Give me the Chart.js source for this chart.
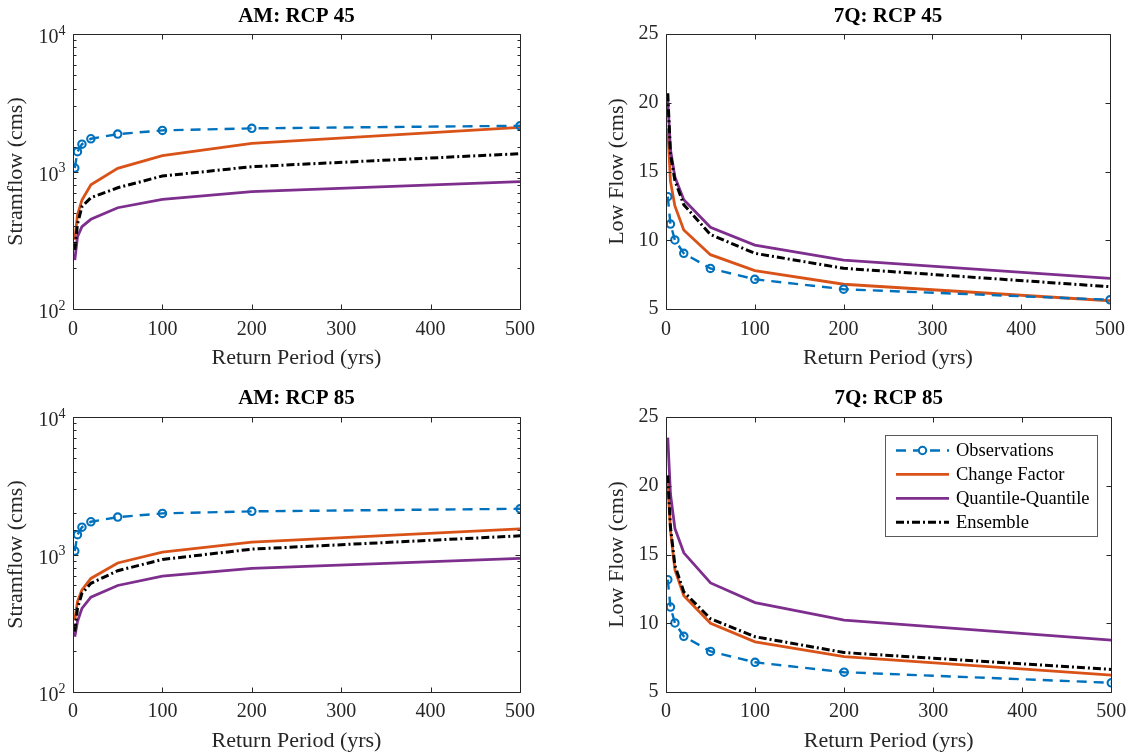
<!DOCTYPE html>
<html>
<head>
<meta charset="utf-8">
<script src="https://cdn.jsdelivr.net/npm/chart.js@4.4.1/dist/chart.umd.min.js"></script>
<style>
html,body{margin:0;padding:0;background:#ffffff;}
#wrap{position:relative;width:1134px;height:756px;overflow:hidden;}
.panel{position:absolute;width:567px;height:378px;}
</style>
</head>
<body>
<div id="wrap">
  <div class="panel" style="left:0px;top:0px"><canvas id="c1"></canvas></div>
  <div class="panel" style="left:567px;top:0px"><canvas id="c2"></canvas></div>
  <div class="panel" style="left:0px;top:378px"><canvas id="c3"></canvas></div>
  <div class="panel" style="left:567px;top:378px"><canvas id="c4"></canvas></div>
</div>
<script>
// ---------------- data ----------------
const returnPeriods = [2, 5, 10, 20, 50, 100, 200, 500];

const obsAM   = [1060, 1393, 1580, 1730, 1870, 1990, 2060, 2150];
const cfAM45  = [318, 483, 621, 800, 1055, 1303, 1603, 2094];
const qqAM45  = [227, 335, 397, 449, 545, 628, 713, 843];
const ensAM45 = [269, 415, 555, 645, 762, 927, 1084, 1348];

const cfAM85  = [334, 454, 552, 670, 868, 1040, 1230, 1536];
const qqAM85  = [252, 325, 406, 489, 595, 696, 792, 936];
const ensAM85 = [275, 406, 522, 617, 762, 920, 1094, 1367];

const obs7Q   = [13.17, 11.18, 10.02, 9.05, 7.95, 7.16, 6.44, 5.67];
const cf7Q45  = [18.14, 14.3, 12.5, 10.75, 8.95, 7.79, 6.8, 5.6];
const qq7Q45  = [20.2, 16.6, 14.6, 12.95, 10.95, 9.65, 8.56, 7.23];
const ens7Q45 = [20.69, 16.3, 14.35, 12.58, 10.42, 9.05, 7.96, 6.62];

const cf7Q85  = [20.18, 16.8, 13.9, 12.0, 10.0, 8.65, 7.57, 6.23];
const qq7Q85  = [23.5, 19.4, 16.9, 15.12, 12.93, 11.5, 10.23, 8.77];
const ens7Q85 = [20.76, 17.0, 14.2, 12.28, 10.33, 9.02, 7.87, 6.64];

const seriesNames = ['Observations', 'Change Factor', 'Quantile-Quantile', 'Ensemble'];
const panelTitles = ['AM: RCP 45', '7Q: RCP 45', 'AM: RCP 85', '7Q: RCP 85'];
const yTitles = ['Stramflow (cms)', 'Low Flow (cms)'];
const xTitle = 'Return Period (yrs)';

// ---------------- style ----------------
const FONT = 'Liberation Serif';
const AX = '#262626';
const COLORS = ['#0072BD', '#D95319', '#7E2F8E', '#000000'];

function pts(arr) { return returnPeriods.map((x, i) => ({ x: x, y: arr[i] })); }

function makeDatasets(obs, cf, qq, ens) {
  return [
    { label: seriesNames[0], data: pts(obs), borderColor: COLORS[0], borderWidth: 2.4, borderDash: [10, 7],
      pointRadius: 3.7, pointBorderWidth: 2.1, pointBorderColor: COLORS[0], pointBackgroundColor: 'rgba(255,255,255,0)', order: 0 },
    { label: seriesNames[1], data: pts(cf), borderColor: COLORS[1], borderWidth: 2.8, pointRadius: 0, order: 3 },
    { label: seriesNames[2], data: pts(qq), borderColor: COLORS[2], borderWidth: 2.8, pointRadius: 0, order: 2 },
    { label: seriesNames[3], data: pts(ens), borderColor: COLORS[3], borderWidth: 3.0, borderDash: [8, 3, 2, 3], pointRadius: 0, order: 1 }
  ];
}

function isDecade(v) {
  const e = Math.log10(v);
  return Math.abs(e - Math.round(e)) < 1e-9;
}

function makeChart(id, g) {
  const W = 567, H = 378;
  const framePlugin = {
    id: 'frame' + id,
    afterDatasetsDraw(chart) {
      const { ctx, chartArea: a, scales: { x, y } } = chart;
      ctx.save();
      ctx.setLineDash([]);
      ctx.strokeStyle = AX;
      ctx.lineWidth = 1;
      const L = Math.round(a.left) + 0.5, R = Math.round(a.right) + 0.5;
      const T = Math.round(a.top) + 0.5, B = Math.round(a.bottom) + 0.5;
      ctx.beginPath();
      ctx.rect(L, T, R - L, B - T);
      x.ticks.forEach(t => {
        const px = Math.round(x.getPixelForValue(t.value)) + 0.5;
        ctx.moveTo(px, B); ctx.lineTo(px, B - 5);
        ctx.moveTo(px, T); ctx.lineTo(px, T + 5);
      });
      y.ticks.forEach(t => {
        const py = Math.round(y.getPixelForValue(t.value)) + 0.5;
        const len = (g.log && !isDecade(t.value)) ? 3 : 5;
        ctx.moveTo(L, py); ctx.lineTo(L + len, py);
        ctx.moveTo(R, py); ctx.lineTo(R - len, py);
      });
      ctx.stroke();
      ctx.restore();
    },
    afterDraw(chart) {
      const { ctx, chartArea: a, scales: { y } } = chart;
      ctx.save();
      // panel title
      ctx.fillStyle = '#000000';
      ctx.font = 'bold 21px "' + FONT + '"';
      ctx.textAlign = 'center';
      ctx.textBaseline = 'middle';
      ctx.fillText(g.title, (a.left + a.right) / 2, g.titleY);
      // exponents of the log tick labels
      if (g.log) {
        ctx.fillStyle = AX;
        ctx.font = '14px "' + FONT + '"';
        ctx.textAlign = 'left';
        y.ticks.forEach(t => {
          if (isDecade(t.value)) {
            const py = y.getPixelForValue(t.value);
            ctx.fillText(String(Math.round(Math.log10(t.value))), a.left - 14.5, py - 3);
          }
        });
      }
      // legend
      if (g.legend) {
        const bw = 212, bh = 101;
        const bx = Math.round(a.right - 14 - bw), by = Math.round(a.top + 18);
        ctx.fillStyle = '#ffffff';
        ctx.fillRect(bx, by, bw, bh);
        ctx.strokeStyle = '#5a5a5a';
        ctx.lineWidth = 1;
        ctx.strokeRect(bx + 0.5, by + 0.5, bw, bh);
        chart.data.datasets.forEach((ds, i) => {
          const cy = by + 15.5 + i * 23.9;
          ctx.setLineDash(ds.borderDash || []);
          ctx.strokeStyle = ds.borderColor;
          ctx.lineWidth = ds.borderWidth;
          ctx.beginPath();
          ctx.moveTo(bx + 11, cy); ctx.lineTo(bx + 64, cy);
          ctx.stroke();
          ctx.setLineDash([]);
          if (ds.pointRadius > 0) {
            ctx.beginPath();
            ctx.arc(bx + 37.5, cy, ds.pointRadius, 0, Math.PI * 2);
            ctx.fillStyle = '#ffffff';
            ctx.fill();
            ctx.lineWidth = ds.pointBorderWidth;
            ctx.stroke();
          }
          ctx.fillStyle = '#000000';
          ctx.font = '18.5px "' + FONT + '"';
          ctx.textAlign = 'left';
          ctx.textBaseline = 'middle';
          ctx.fillText(ds.label, bx + 71, cy + 1);
        });
      }
      ctx.restore();
    }
  };

  const yScale = g.log ? {
    type: 'logarithmic', min: 100, max: 10000,
    ticks: {
      autoSkip: false,
      callback: (v) => isDecade(v) ? '10' : '',
      padding: 14.5, labelOffset: 4,
      font: { family: FONT, size: 20 }, color: AX
    }
  } : {
    type: 'linear', min: 5, max: 25,
    ticks: { stepSize: 5, autoSkip: false, padding: 7.5, font: { family: FONT, size: 20 }, color: AX }
  };
  yScale.grid = { display: false, drawTicks: false, tickLength: 0 };
  yScale.border = { display: false };
  yScale.title = { display: true, text: g.yTitle, font: { family: FONT, size: 22 }, color: AX, padding: { top: g.yTitlePad, bottom: 0 } };
  yScale.afterFit = (s) => { s.width = g.L; };

  return new Chart(document.getElementById(id), {
    type: 'line',
    data: { datasets: g.datasets },
    options: {
      responsive: true,
      maintainAspectRatio: false,
      animation: false,
      devicePixelRatio: 1,
      layout: { padding: { left: 0, right: W - g.R, top: g.T, bottom: 0 } },
      plugins: { legend: { display: false }, title: { display: false }, tooltip: { enabled: false } },
      elements: { line: { tension: 0, borderCapStyle: 'butt' } },
      scales: {
        x: {
          type: 'linear', min: 0, max: 500,
          ticks: { stepSize: 100, autoSkip: false, maxRotation: 0, padding: g.xTickPad, font: { family: FONT, size: 20 }, color: AX },
          grid: { display: false, drawTicks: false, tickLength: 0 },
          border: { display: false },
          title: { display: true, text: xTitle, font: { family: FONT, size: 22 }, color: AX, padding: { top: 0, bottom: g.xTitlePad } },
          afterFit: (s) => { s.height = H - g.B; }
        },
        y: yScale
      }
    },
    plugins: [framePlugin]
  });
}

makeChart('c1', { title: panelTitles[0], yTitle: yTitles[0], log: true, legend: false,
  L: 73, R: 520, T: 34, B: 309, titleY: 17, yTitlePad: 3.5, xTickPad: 9, xTitlePad: 6.8,
  datasets: makeDatasets(obsAM, cfAM45, qqAM45, ensAM45) });
makeChart('c2', { title: panelTitles[1], yTitle: yTitles[1], log: false, legend: false,
  L: 99, R: 545, T: 34, B: 309, titleY: 17, yTitlePad: 37.3, xTickPad: 9, xTitlePad: 6.8,
  datasets: makeDatasets(obs7Q, cf7Q45, qq7Q45, ens7Q45) });
makeChart('c3', { title: panelTitles[2], yTitle: yTitles[0], log: true, legend: false,
  L: 73, R: 520, T: 39, B: 314, titleY: 21, yTitlePad: 3.5, xTickPad: 7.7, xTitlePad: 2.0,
  datasets: makeDatasets(obsAM, cfAM85, qqAM85, ensAM85) });
makeChart('c4', { title: panelTitles[3], yTitle: yTitles[1], log: false, legend: true,
  L: 99, R: 545, T: 39, B: 314, titleY: 21, yTitlePad: 37.3, xTickPad: 7.7, xTitlePad: 2.0,
  datasets: makeDatasets(obs7Q, cf7Q85, qq7Q85, ens7Q85) });
</script>
</body>
</html>
